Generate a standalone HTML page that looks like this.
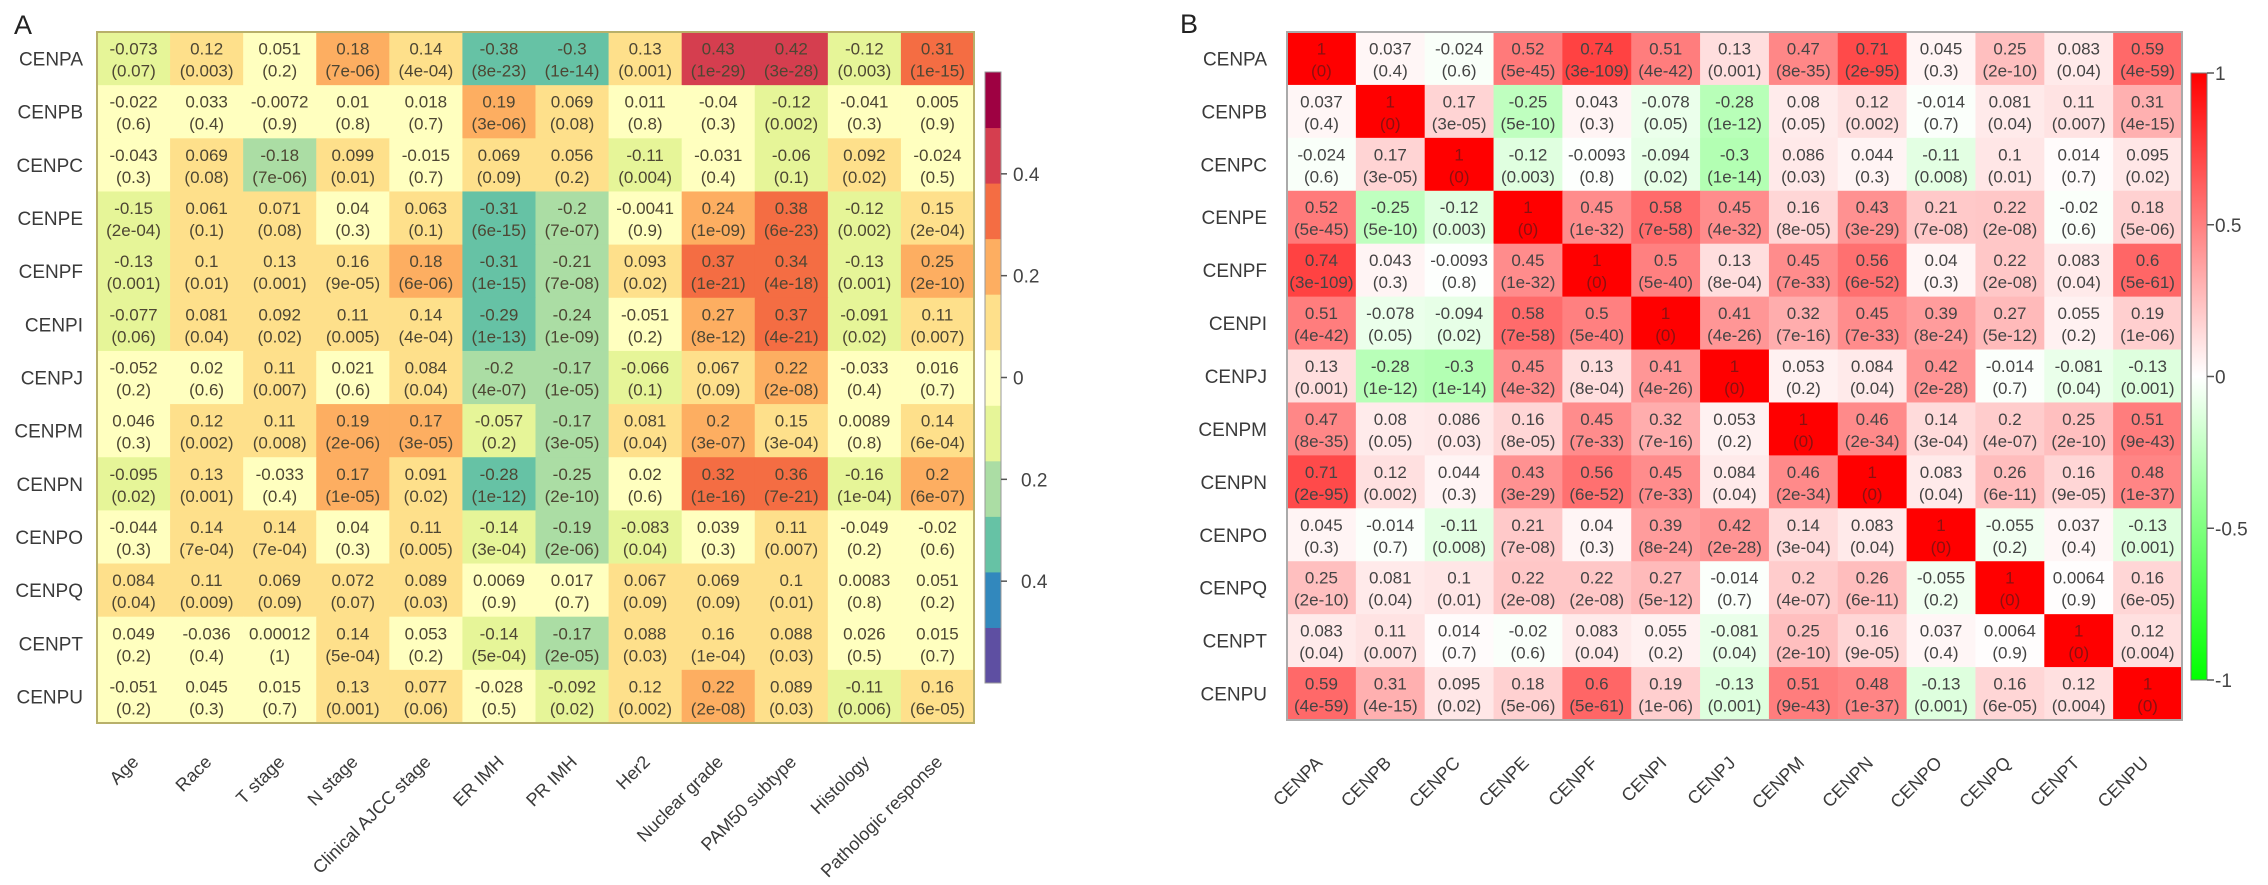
<!DOCTYPE html>
<html><head><meta charset="utf-8"><style>
html,body{margin:0;padding:0;background:#fff;}
svg{display:block;font-family:"Liberation Sans",Arial,sans-serif;}
</style></head><body>
<svg id="fig" width="2268" height="885" viewBox="0 0 2268 885" xmlns="http://www.w3.org/2000/svg">
<text x="14" y="34" font-size="27" fill="#222">A</text>
<text x="1180" y="33" font-size="27" fill="#222">B</text>
<g id="pa"></g>
<g id="pb"></g>
</svg>
<script>
const genes = ["CENPA","CENPB","CENPC","CENPE","CENPF","CENPI","CENPJ","CENPM","CENPN","CENPO","CENPQ","CENPT","CENPU"];
const clinical = ["Age","Race","T stage","N stage","Clinical AJCC stage","ER IMH","PR IMH","Her2","Nuclear grade","PAM50 subtype","Histology","Pathologic response"];
const aR = [
[-0.073,0.12,0.051,0.18,0.14,-0.38,-0.3,0.13,0.43,0.42,-0.12,0.31],
[-0.022,0.033,-0.0072,0.01,0.018,0.19,0.069,0.011,-0.04,-0.12,-0.041,0.005],
[-0.043,0.069,-0.18,0.099,-0.015,0.069,0.056,-0.11,-0.031,-0.06,0.092,-0.024],
[-0.15,0.061,0.071,0.04,0.063,-0.31,-0.2,-0.0041,0.24,0.38,-0.12,0.15],
[-0.13,0.1,0.13,0.16,0.18,-0.31,-0.21,0.093,0.37,0.34,-0.13,0.25],
[-0.077,0.081,0.092,0.11,0.14,-0.29,-0.24,-0.051,0.27,0.37,-0.091,0.11],
[-0.052,0.02,0.11,0.021,0.084,-0.2,-0.17,-0.066,0.067,0.22,-0.033,0.016],
[0.046,0.12,0.11,0.19,0.17,-0.057,-0.17,0.081,0.2,0.15,0.0089,0.14],
[-0.095,0.13,-0.033,0.17,0.091,-0.28,-0.25,0.02,0.32,0.36,-0.16,0.2],
[-0.044,0.14,0.14,0.04,0.11,-0.14,-0.19,-0.083,0.039,0.11,-0.049,-0.02],
[0.084,0.11,0.069,0.072,0.089,0.0069,0.017,0.067,0.069,0.1,0.0083,0.051],
[0.049,-0.036,0.00012,0.14,0.053,-0.14,-0.17,0.088,0.16,0.088,0.026,0.015],
[-0.051,0.045,0.015,0.13,0.077,-0.028,-0.092,0.12,0.22,0.089,-0.11,0.16]];
const aP = [
["0.07","0.003","0.2","7e-06","4e-04","8e-23","1e-14","0.001","1e-29","3e-28","0.003","1e-15"],
["0.6","0.4","0.9","0.8","0.7","3e-06","0.08","0.8","0.3","0.002","0.3","0.9"],
["0.3","0.08","7e-06","0.01","0.7","0.09","0.2","0.004","0.4","0.1","0.02","0.5"],
["2e-04","0.1","0.08","0.3","0.1","6e-15","7e-07","0.9","1e-09","6e-23","0.002","2e-04"],
["0.001","0.01","0.001","9e-05","6e-06","1e-15","7e-08","0.02","1e-21","4e-18","0.001","2e-10"],
["0.06","0.04","0.02","0.005","4e-04","1e-13","1e-09","0.2","8e-12","4e-21","0.02","0.007"],
["0.2","0.6","0.007","0.6","0.04","4e-07","1e-05","0.1","0.09","2e-08","0.4","0.7"],
["0.3","0.002","0.008","2e-06","3e-05","0.2","3e-05","0.04","3e-07","3e-04","0.8","6e-04"],
["0.02","0.001","0.4","1e-05","0.02","1e-12","2e-10","0.6","1e-16","7e-21","1e-04","6e-07"],
["0.3","7e-04","7e-04","0.3","0.005","3e-04","2e-06","0.04","0.3","0.007","0.2","0.6"],
["0.04","0.009","0.09","0.07","0.03","0.9","0.7","0.09","0.09","0.01","0.8","0.2"],
["0.2","0.4","1","5e-04","0.2","5e-04","2e-05","0.03","1e-04","0.03","0.5","0.7"],
["0.2","0.3","0.7","0.001","0.06","0.5","0.02","0.002","2e-08","0.03","0.006","6e-05"]];
const bR = [
[1,0.037,-0.024,0.52,0.74,0.51,0.13,0.47,0.71,0.045,0.25,0.083,0.59],
[0.037,1,0.17,-0.25,0.043,-0.078,-0.28,0.08,0.12,-0.014,0.081,0.11,0.31],
[-0.024,0.17,1,-0.12,-0.0093,-0.094,-0.3,0.086,0.044,-0.11,0.1,0.014,0.095],
[0.52,-0.25,-0.12,1,0.45,0.58,0.45,0.16,0.43,0.21,0.22,-0.02,0.18],
[0.74,0.043,-0.0093,0.45,1,0.5,0.13,0.45,0.56,0.04,0.22,0.083,0.6],
[0.51,-0.078,-0.094,0.58,0.5,1,0.41,0.32,0.45,0.39,0.27,0.055,0.19],
[0.13,-0.28,-0.3,0.45,0.13,0.41,1,0.053,0.084,0.42,-0.014,-0.081,-0.13],
[0.47,0.08,0.086,0.16,0.45,0.32,0.053,1,0.46,0.14,0.2,0.25,0.51],
[0.71,0.12,0.044,0.43,0.56,0.45,0.084,0.46,1,0.083,0.26,0.16,0.48],
[0.045,-0.014,-0.11,0.21,0.04,0.39,0.42,0.14,0.083,1,-0.055,0.037,-0.13],
[0.25,0.081,0.1,0.22,0.22,0.27,-0.014,0.2,0.26,-0.055,1,0.0064,0.16],
[0.083,0.11,0.014,-0.02,0.083,0.055,-0.081,0.25,0.16,0.037,0.0064,1,0.12],
[0.59,0.31,0.095,0.18,0.6,0.19,-0.13,0.51,0.48,-0.13,0.16,0.12,1]];
const bP = [
["0","0.4","0.6","5e-45","3e-109","4e-42","0.001","8e-35","2e-95","0.3","2e-10","0.04","4e-59"],
["0.4","0","3e-05","5e-10","0.3","0.05","1e-12","0.05","0.002","0.7","0.04","0.007","4e-15"],
["0.6","3e-05","0","0.003","0.8","0.02","1e-14","0.03","0.3","0.008","0.01","0.7","0.02"],
["5e-45","5e-10","0.003","0","1e-32","7e-58","4e-32","8e-05","3e-29","7e-08","2e-08","0.6","5e-06"],
["3e-109","0.3","0.8","1e-32","0","5e-40","8e-04","7e-33","6e-52","0.3","2e-08","0.04","5e-61"],
["4e-42","0.05","0.02","7e-58","5e-40","0","4e-26","7e-16","7e-33","8e-24","5e-12","0.2","1e-06"],
["0.001","1e-12","1e-14","4e-32","8e-04","4e-26","0","0.2","0.04","2e-28","0.7","0.04","0.001"],
["8e-35","0.05","0.03","8e-05","7e-33","7e-16","0.2","0","2e-34","3e-04","4e-07","2e-10","9e-43"],
["2e-95","0.002","0.3","3e-29","6e-52","7e-33","0.04","2e-34","0","0.04","6e-11","9e-05","1e-37"],
["0.3","0.7","0.008","7e-08","0.3","8e-24","2e-28","3e-04","0.04","0","0.2","0.4","0.001"],
["2e-10","0.04","0.01","2e-08","2e-08","5e-12","0.7","4e-07","6e-11","0.2","0","0.9","6e-05"],
["0.04","0.007","0.7","0.6","0.04","0.2","0.04","2e-10","9e-05","0.4","0.9","0","0.004"],
["4e-59","4e-15","0.02","5e-06","5e-61","1e-06","0.001","9e-43","1e-37","0.001","6e-05","0.004","0"]];
const aTicks = [0.4,0.2,0,-0.2,-0.4];
const aTickLabels = ["0.4","0.2","0","0.2","0.4"];
const bTicks = [1,0.5,0,-0.5,-1];
const bTickLabels = ["1","0.5","0","-0.5","-1"];

const NS = "http://www.w3.org/2000/svg";
function mk(tag, attrs, parent){const e=document.createElementNS(NS,tag);for(const k in attrs)e.setAttribute(k,attrs[k]);parent.appendChild(e);return e;}
const spectral = ["#5E4FA2","#3288BD","#66C2A5","#ABDDA4","#E6F598","#FFFFBF","#FEE08B","#FDAE61","#F46D43","#D53E4F","#9E0142"];
const aMin=-0.6, aMax=0.6;
function aColor(v){let i=Math.floor((v-aMin)/(aMax-aMin)*11);i=Math.max(0,Math.min(10,i));return spectral[i];}
function bColor(v){const t=Math.min(1,Math.abs(v));const w=Math.round(255*(1-t));return v>=0?`rgb(255,${w},${w})`:`rgb(${w},255,${w})`;}

// Panel A
(function(){
  const g=document.getElementById('pa');
  const x0=97,x1=974,y0=32,y1=723;
  const cw=(x1-x0)/clinical.length, ch=(y1-y0)/genes.length;
  const xs=j=>x0+j*cw, ys=i=>y0+i*ch;
  genes.forEach((gn,i)=>{
    const t=mk('text',{x:x0-14,y:ys(i)+ch/2+7,'font-size':19,'text-anchor':'end',fill:'#3a3a3a'},g);
    t.textContent=gn;
    
    
    clinical.forEach((c,j)=>{
      const v=aR[i][j];
      const r=mk('rect',{x:xs(j),y:ys(i),width:cw+0.5,height:ch+0.5,fill:aColor(v)},g);
      
      
      const t1=mk('text',{x:xs(j)+cw/2,y:ys(i)+ch/2-4,'font-size':17,'text-anchor':'middle',fill:'#4d4633'},g);
      t1.textContent=String(v);
      
      
      const t2=mk('text',{x:xs(j)+cw/2,y:ys(i)+ch/2+18,'font-size':17,'text-anchor':'middle',fill:'#4d4633'},g);
      t2.textContent='('+aP[i][j]+')';
      
      
    });
  });
  const b=mk('rect',{x:x0,y:y0,width:x1-x0,height:y1-y0,fill:'none',stroke:'#b8b06a','stroke-width':2},g);
  
  
  clinical.forEach((c,j)=>{
    const cx=xs(j)+cw/2+6, cy=y1+40;
    const t=mk('text',{x:cx,y:cy,'font-size':18,'text-anchor':'end',fill:'#3a3a3a',transform:`rotate(-45 ${cx} ${cy})`},g);
    t.textContent=c;
    
    
  });
  const cbx=985,cbw=16,cby0=72,cby1=683;
  const cy=v=>cby0+(aMax-v)/(aMax-aMin)*(cby1-cby0);
  for(let k=0;k<11;k++){
    const lo=aMin+k*(aMax-aMin)/11, hi=aMin+(k+1)*(aMax-aMin)/11;
    const r=mk('rect',{x:cbx,y:cy(hi),width:cbw,height:cy(lo)-cy(hi)+0.5,fill:spectral[k]},g);
    
    
  }
  const cb=mk('rect',{x:cbx,y:cby0,width:cbw,height:cby1-cby0,fill:'none',stroke:'#999','stroke-width':1},g);
  
  
  aTicks.forEach((v,k)=>{
    mk('line',{x1:cbx+cbw,x2:cbx+cbw+6,y1:cy(v),y2:cy(v),stroke:'#555','stroke-width':1.5},g);
    const t=mk('text',{x:cbx+cbw+(v<0?20:12),y:cy(v)+7,'font-size':19,fill:'#444'},g);
    t.textContent=aTickLabels[k];
    
    
  });
})();

// Panel B
(function(){
  const g=document.getElementById('pb');
  const x0=1287,x1=2182,y0=32,y1=720;
  const n=genes.length, cw=(x1-x0)/n, ch=(y1-y0)/n;
  const xs=j=>x0+j*cw, ys=i=>y0+i*ch;
  genes.forEach((gn,i)=>{
    const t=mk('text',{x:x0-20,y:ys(i)+ch/2+7,'font-size':19,'text-anchor':'end',fill:'#3a3a3a'},g);
    t.textContent=gn;
    
    
    genes.forEach((g2,j)=>{
      const v=bR[i][j];
      const r=mk('rect',{x:xs(j),y:ys(i),width:cw+0.5,height:ch+0.5,fill:bColor(v)},g);
      
      
      const col=v>=0.99?'#8b1010':'#444';
      const t1=mk('text',{x:xs(j)+cw/2,y:ys(i)+ch/2-4,'font-size':17,'text-anchor':'middle',fill:col},g);
      t1.textContent=String(v);
      
      
      const t2=mk('text',{x:xs(j)+cw/2,y:ys(i)+ch/2+18,'font-size':17,'text-anchor':'middle',fill:col},g);
      t2.textContent='('+bP[i][j]+')';
      
      
    });
  });
  const b=mk('rect',{x:x0,y:y0,width:x1-x0,height:y1-y0,fill:'none',stroke:'#aaa','stroke-width':2},g);
  
  
  genes.forEach((gn,j)=>{
    const cx=xs(j)+cw/2+2, cy=y1+44;
    const t=mk('text',{x:cx,y:cy,'font-size':18,'text-anchor':'end',fill:'#3a3a3a',transform:`rotate(-45 ${cx} ${cy})`},g);
    t.textContent=gn;
    
    
  });
  const defs=mk('defs',{},g);
  const lg=mk('linearGradient',{id:'bgrad',x1:0,y1:0,x2:0,y2:1},defs);
  mk('stop',{offset:'0','stop-color':'#ff0000'},lg);
  mk('stop',{offset:'0.5','stop-color':'#ffffff'},lg);
  mk('stop',{offset:'1','stop-color':'#00ff00'},lg);
  const cbx=2191,cbw=16,cby0=73,cby1=680;
  const cy=v=>cby0+(1-v)/2*(cby1-cby0);
  const cb=mk('rect',{x:cbx,y:cby0,width:cbw,height:cby1-cby0,fill:'url(#bgrad)',stroke:'#777','stroke-width':1},g);
  
  
  bTicks.forEach((v,k)=>{
    mk('line',{x1:cbx+cbw,x2:cbx+cbw+7,y1:cy(v),y2:cy(v),stroke:'#555','stroke-width':1.5},g);
    const t=mk('text',{x:cbx+cbw+8,y:cy(v)+7,'font-size':19,fill:'#444'},g);
    t.textContent=bTickLabels[k];
    
    
  });
})();
</script>
</body></html>
